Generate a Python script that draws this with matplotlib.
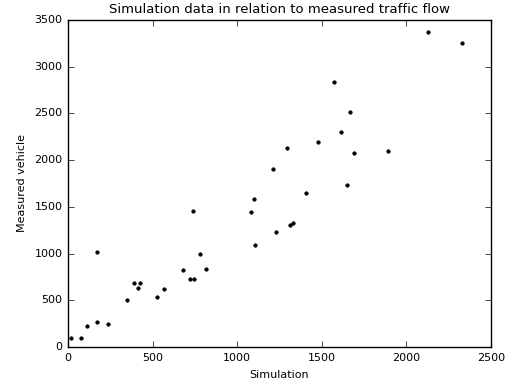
import matplotlib
matplotlib.use("Agg")
import matplotlib.pyplot as plt

simulation = [20, 77, 115, 170, 174, 239, 351, 388, 412, 424, 528, 570, 682, 719, 747,
              778, 739, 813, 1081, 1097, 1105, 1231, 1311, 1327, 1404, 1648, 2126, 2326,
              1573, 1669, 1616, 1479, 1296, 1693, 1892, 1213]
measured = [96, 96, 221, 272, 1017, 250, 503, 682, 636, 682, 535, 621, 821, 732, 732,
            1000, 1460, 832, 1446, 1585, 1096, 1235, 1310, 1332, 1653, 1731, 3373, 3255,
            2834, 2513, 2299, 2192, 2127, 2081, 2099, 1906]

plt.style.use('classic')
fig = plt.figure(figsize=(5.1, 3.81), dpi=100)
ax = fig.add_axes([68/510, 1-347/381, (491-68)/510, (347-20)/381])
ax.plot(simulation, measured, 'k.', markersize=5)
ax.set_xlim(0, 2500)
ax.set_ylim(0, 3500)
ax.set_xticks([0, 500, 1000, 1500, 2000, 2500])
ax.set_yticks([0, 500, 1000, 1500, 2000, 2500, 3000, 3500])
ax.tick_params(labelsize=8)
ax.set_xlabel('Simulation', fontsize=8)
ax.set_ylabel('Measured vehicle', fontsize=8)
ax.set_title('Simulation data in relation to measured traffic flow', fontsize=9.5)
fig.savefig('out.png', dpi=100, facecolor='white')
